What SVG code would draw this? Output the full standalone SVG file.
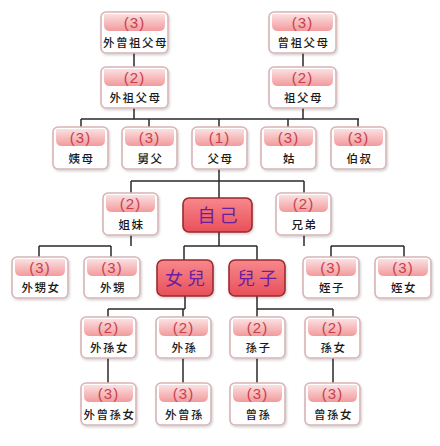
<svg xmlns="http://www.w3.org/2000/svg" width="440" height="446" viewBox="0 0 440 446">
<defs>
<linearGradient id="band" x1="0" y1="0" x2="0" y2="1">
<stop offset="0" stop-color="#fbe0e0"/>
<stop offset="1" stop-color="#f39a9c"/>
</linearGradient>
<linearGradient id="red" x1="0" y1="0" x2="0" y2="1">
<stop offset="0" stop-color="#f7888c"/>
<stop offset="1" stop-color="#e8505a"/>
</linearGradient>
<filter id="sh" x="-10%" y="-10%" width="130%" height="130%">
<feDropShadow dx="1" dy="1.5" stdDeviation="1" flood-color="#000" flood-opacity="0.18"/>
</filter>
</defs>
<style>
.box{fill:#ffffff;stroke:#d8b4b6;stroke-width:1.6;filter:url(#sh)}
.band{fill:url(#band)}
.num{font-family:"Liberation Sans",Arial,sans-serif;font-size:15px;fill:#c8404c;text-anchor:middle;letter-spacing:1px}
.lbl{font-family:"Noto Sans CJK TC","Noto Sans CJK SC",sans-serif;font-size:11.5px;font-weight:500;fill:#1a1a1a;text-anchor:middle;letter-spacing:1.5px}
.rbox{fill:url(#red);stroke:#9c2a2e;stroke-width:1.6;filter:url(#sh)}
.rlbl{font-family:"Noto Sans CJK TC","Noto Sans CJK SC",sans-serif;font-size:18px;fill:#6a1f9e;text-anchor:middle;letter-spacing:4px}
.ln{stroke:#2a2a2a;stroke-width:1.5;fill:none}
</style>
<rect width="440" height="446" fill="#ffffff"/>

<g id="connectors">
<path class="ln" d="M134,53V67 M303,53V67 M134,108V119 M303,108V119 M81,119H359 M81,119V127 M149,119V127 M219,119V127 M288,119V127 M358,119V127"/>
<path class="ln" d="M219,169V198 M131,181H304 M131,181V193 M304,181V193"/>
<path class="ln" d="M131,235V246 M39,246H111 M39,246V257 M111,246V257"/>
<path class="ln" d="M219,232V246 M184,246H257 M184,246V260 M257,246V260"/>
<path class="ln" d="M304,235V246 M331,246H404 M331,246V257 M404,246V257"/>
<path class="ln" d="M185,296V309 M108,309H185 M108,309V317 M183,309V317"/>
<path class="ln" d="M257,296V309 M257,309H333 M257,309V317 M333,309V317"/>
<path class="ln" d="M108,358V383 M183,358V383 M257,358V383 M333,358V383"/>
</g>

<!-- Row 1 -->
<g id="n_waizengzufumu" transform="translate(101,12)">
<rect class="box" width="67" height="41" rx="5"/>
<path class="band" d="M3,2H64V13Q64,19 58,19H9Q3,19 3,13Z"/>
<text class="num" x="33.5" y="16">(3)</text>
<text class="lbl" x="34.5" y="35">外曾祖父母</text>
</g>
<g id="n_zengzufumu" transform="translate(269,12)">
<rect class="box" width="67" height="41" rx="5"/>
<path class="band" d="M3,2H64V13Q64,19 58,19H9Q3,19 3,13Z"/>
<text class="num" x="33.5" y="16">(3)</text>
<text class="lbl" x="34.5" y="35">曾祖父母</text>
</g>

<!-- Row 2 -->
<g id="n_waizufumu" transform="translate(101,67)">
<rect class="box" width="67" height="41" rx="5"/>
<path class="band" d="M3,2H64V13Q64,19 58,19H9Q3,19 3,13Z"/>
<text class="num" x="33.5" y="16">(2)</text>
<text class="lbl" x="34.5" y="35">外祖父母</text>
</g>
<g id="n_zufumu" transform="translate(269,67)">
<rect class="box" width="67" height="41" rx="5"/>
<path class="band" d="M3,2H64V13Q64,19 58,19H9Q3,19 3,13Z"/>
<text class="num" x="33.5" y="16">(2)</text>
<text class="lbl" x="34.5" y="35">祖父母</text>
</g>

<!-- Row 3 -->
<g id="n_yimu" transform="translate(53,127)">
<rect class="box" width="55" height="42" rx="5"/>
<path class="band" d="M3,2H52V13Q52,19 46,19H9Q3,19 3,13Z"/>
<text class="num" x="27.5" y="16">(3)</text>
<text class="lbl" x="28.5" y="36">姨母</text>
</g>
<g id="n_jiufu" transform="translate(122,127)">
<rect class="box" width="55" height="42" rx="5"/>
<path class="band" d="M3,2H52V13Q52,19 46,19H9Q3,19 3,13Z"/>
<text class="num" x="27.5" y="16">(3)</text>
<text class="lbl" x="28.5" y="36">舅父</text>
</g>
<g id="n_fumu" transform="translate(192,127)">
<rect class="box" width="55" height="42" rx="5"/>
<path class="band" d="M3,2H52V13Q52,19 46,19H9Q3,19 3,13Z"/>
<text class="num" x="27.5" y="16">(1)</text>
<text class="lbl" x="28.5" y="36">父母</text>
</g>
<g id="n_gu" transform="translate(261,127)">
<rect class="box" width="55" height="42" rx="5"/>
<path class="band" d="M3,2H52V13Q52,19 46,19H9Q3,19 3,13Z"/>
<text class="num" x="27.5" y="16">(3)</text>
<text class="lbl" x="28.5" y="36">姑</text>
</g>
<g id="n_boshu" transform="translate(331,127)">
<rect class="box" width="55" height="42" rx="5"/>
<path class="band" d="M3,2H52V13Q52,19 46,19H9Q3,19 3,13Z"/>
<text class="num" x="27.5" y="16">(3)</text>
<text class="lbl" x="28.5" y="36">伯叔</text>
</g>

<!-- Row 4 -->
<g id="n_jiemei" transform="translate(103,193)">
<rect class="box" width="55" height="42" rx="5"/>
<path class="band" d="M3,2H52V13Q52,19 46,19H9Q3,19 3,13Z"/>
<text class="num" x="27.5" y="16">(2)</text>
<text class="lbl" x="28.5" y="36">姐妹</text>
</g>
<g id="n_ziji" transform="translate(183,198)">
<rect class="rbox" width="69" height="34" rx="6"/>
<text class="rlbl" x="36.5" y="24">自己</text>
</g>
<g id="n_xiongdi" transform="translate(276,193)">
<rect class="box" width="55" height="42" rx="5"/>
<path class="band" d="M3,2H52V13Q52,19 46,19H9Q3,19 3,13Z"/>
<text class="num" x="27.5" y="16">(2)</text>
<text class="lbl" x="28.5" y="36">兄弟</text>
</g>

<!-- Row 5 -->
<g id="n_waishengnv" transform="translate(12,257)">
<rect class="box" width="56" height="41" rx="5"/>
<path class="band" d="M3,2H53V13Q53,19 47,19H9Q3,19 3,13Z"/>
<text class="num" x="28" y="16">(3)</text>
<text class="lbl" x="29" y="35">外甥女</text>
</g>
<g id="n_waisheng" transform="translate(84,257)">
<rect class="box" width="56" height="41" rx="5"/>
<path class="band" d="M3,2H53V13Q53,19 47,19H9Q3,19 3,13Z"/>
<text class="num" x="28" y="16">(3)</text>
<text class="lbl" x="29" y="35">外甥</text>
</g>
<g id="n_nver" transform="translate(157,260)">
<rect class="rbox" width="56" height="36" rx="6"/>
<text class="rlbl" x="30" y="25">女兒</text>
</g>
<g id="n_erzi" transform="translate(229,260)">
<rect class="rbox" width="56" height="36" rx="6"/>
<text class="rlbl" x="30" y="25">兒子</text>
</g>
<g id="n_zhizi" transform="translate(303,257)">
<rect class="box" width="56" height="41" rx="5"/>
<path class="band" d="M3,2H53V13Q53,19 47,19H9Q3,19 3,13Z"/>
<text class="num" x="28" y="16">(3)</text>
<text class="lbl" x="29" y="35">姪子</text>
</g>
<g id="n_zhinv" transform="translate(375,257)">
<rect class="box" width="56" height="41" rx="5"/>
<path class="band" d="M3,2H53V13Q53,19 47,19H9Q3,19 3,13Z"/>
<text class="num" x="28" y="16">(3)</text>
<text class="lbl" x="29" y="35">姪女</text>
</g>

<!-- Row 6 -->
<g id="n_waisunnv" transform="translate(81,317)">
<rect class="box" width="55" height="41" rx="5"/>
<path class="band" d="M3,2H52V13Q52,19 46,19H9Q3,19 3,13Z"/>
<text class="num" x="27.5" y="16">(2)</text>
<text class="lbl" x="28.5" y="35">外孫女</text>
</g>
<g id="n_waisun" transform="translate(156,317)">
<rect class="box" width="55" height="41" rx="5"/>
<path class="band" d="M3,2H52V13Q52,19 46,19H9Q3,19 3,13Z"/>
<text class="num" x="27.5" y="16">(2)</text>
<text class="lbl" x="28.5" y="35">外孫</text>
</g>
<g id="n_sunzi" transform="translate(230,317)">
<rect class="box" width="55" height="41" rx="5"/>
<path class="band" d="M3,2H52V13Q52,19 46,19H9Q3,19 3,13Z"/>
<text class="num" x="27.5" y="16">(2)</text>
<text class="lbl" x="28.5" y="35">孫子</text>
</g>
<g id="n_sunnv" transform="translate(305,317)">
<rect class="box" width="55" height="41" rx="5"/>
<path class="band" d="M3,2H52V13Q52,19 46,19H9Q3,19 3,13Z"/>
<text class="num" x="27.5" y="16">(2)</text>
<text class="lbl" x="28.5" y="35">孫女</text>
</g>

<!-- Row 7 -->
<g id="n_waizengsunnv" transform="translate(81,383)">
<rect class="box" width="55" height="42" rx="5"/>
<path class="band" d="M3,2H52V13Q52,19 46,19H9Q3,19 3,13Z"/>
<text class="num" x="27.5" y="16">(3)</text>
<text class="lbl" x="28.5" y="36">外曾孫女</text>
</g>
<g id="n_waizengsun" transform="translate(156,383)">
<rect class="box" width="55" height="42" rx="5"/>
<path class="band" d="M3,2H52V13Q52,19 46,19H9Q3,19 3,13Z"/>
<text class="num" x="27.5" y="16">(3)</text>
<text class="lbl" x="28.5" y="36">外曾孫</text>
</g>
<g id="n_zengsun" transform="translate(230,383)">
<rect class="box" width="55" height="42" rx="5"/>
<path class="band" d="M3,2H52V13Q52,19 46,19H9Q3,19 3,13Z"/>
<text class="num" x="27.5" y="16">(3)</text>
<text class="lbl" x="28.5" y="36">曾孫</text>
</g>
<g id="n_zengsunnv" transform="translate(305,383)">
<rect class="box" width="55" height="42" rx="5"/>
<path class="band" d="M3,2H52V13Q52,19 46,19H9Q3,19 3,13Z"/>
<text class="num" x="27.5" y="16">(3)</text>
<text class="lbl" x="28.5" y="36">曾孫女</text>
</g>
</svg>
